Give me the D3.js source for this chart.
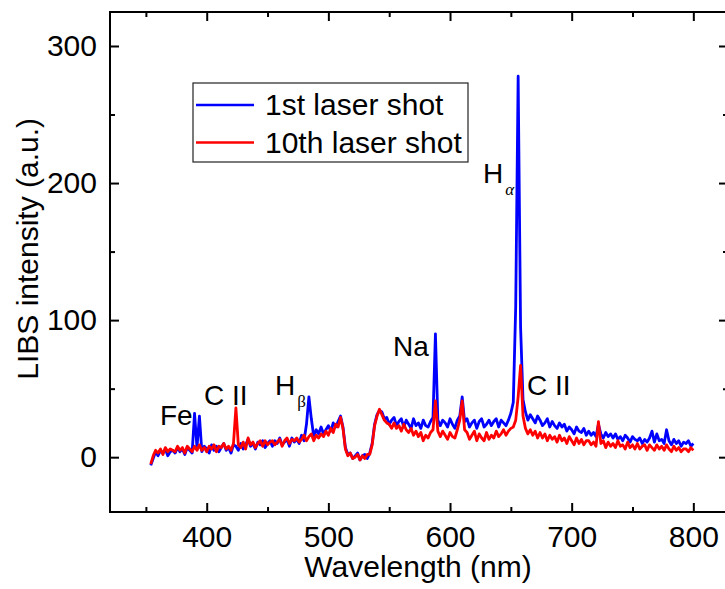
<!DOCTYPE html>
<html>
<head>
<meta charset="utf-8">
<script src="https://cdn.jsdelivr.net/npm/d3@7"></script>
<style>
  body { margin: 0; background: #fff; }
  svg { display: block; font-family: "Liberation Sans", Arial, sans-serif; }
</style>
</head>
<body>
<div id="chart"></div>
<script>
// wavelength grid (nm), one sample every 2 nm
var wavelength = [
  354,356,358,360,362,364,366,368,370,372,
  374,376,378,380,382,384,386,388,390,392,
  394,396,398,400,402,404,406,408,410,412,
  414,416,418,420,422,424,426,428,430,432,
  434,436,438,440,442,444,446,448,450,452,
  454,456,458,460,462,464,466,468,470,472,
  474,476,478,480,482,484,486,488,490,492,
  494,496,498,500,502,504,506,508,510,512,
  514,516,518,520,522,524,526,528,530,532,
  534,536,538,540,542,544,546,548,550,552,
  554,556,558,560,562,564,566,568,570,572,
  574,576,578,580,582,584,586,588,590,592,
  594,596,598,600,602,604,606,608,610,612,
  614,616,618,620,622,624,626,628,630,632,
  634,636,638,640,642,644,646,648,650,652,
  654,656,658,660,662,664,666,668,670,672,
  674,676,678,680,682,684,686,688,690,692,
  694,696,698,700,702,704,706,708,710,712,
  714,716,718,720,722,724,726,728,730,732,
  734,736,738,740,742,744,746,748,750,752,
  754,756,758,760,762,764,766,768,770,772,
  774,776,778,780,782,784,786,788,790,792,
  794,796,798,800
];

// 1st laser shot
var shot1 = [
  -6,-1,4,1,5,3,6,1,4,5,
  3,7,4,6,2,7,5,3,32,7,
  30,4,8,6,3,9,5,8,4,7,
  10,5,7,3,9,8,5,10,6,9,
  13,8,10,6,11,9,12,7,10,12,
  8,12,10,14,9,11,13,8,14,11,
  13,10,16,12,24,44,28,15,20,17,
  22,17,20,23,19,25,22,26,30,22,
  7,2,3,-1,1,3,-2,1,2,-1,
  3,10,24,31,34,33,28,29,24,27,
  29,23,26,28,22,27,24,21,28,23,
  25,21,27,23,22,26,29,90,27,23,
  27,25,22,28,24,21,27,30,44,26,
  28,22,25,27,21,26,28,22,24,27,
  23,26,28,22,27,25,23,27,32,40,
  110,278,95,42,33,27,31,28,25,30,
  27,23,25,28,22,26,23,21,25,22,
  24,19,22,20,17,22,19,18,21,16,
  19,16,18,15,24,17,14,18,15,17,
  14,17,13,15,12,16,14,11,15,13,
  12,14,10,13,11,14,19,11,17,12,
  13,10,20,12,9,13,10,12,8,11,
  10,12,8,10
];

// 10th laser shot
var shot10 = [
  -5,1,5,3,6,2,7,4,6,5,
  4,8,5,7,3,8,6,4,8,5,
  9,5,7,4,8,6,9,4,8,7,
  10,6,8,5,10,36,9,7,11,6,
  14,9,11,7,10,12,8,12,9,11,
  12,9,11,13,8,12,14,10,13,12,
  14,11,13,16,12,15,17,12,16,14,
  17,15,19,16,21,18,24,22,29,21,
  6,1,3,-1,0,2,-2,1,-1,2,
  2,9,23,30,35,31,27,25,24,21,
  25,21,23,19,24,20,18,21,16,19,
  15,18,12,16,14,18,20,41,19,15,
  19,16,13,18,15,14,20,27,41,20,
  18,13,16,19,12,17,14,12,18,13,
  16,14,19,15,17,20,16,19,21,22,
  27,44,67,30,21,17,20,16,19,14,
  18,14,17,12,16,13,15,11,16,12,
  14,10,15,12,9,14,10,13,9,12,
  12,9,11,8,26,10,12,7,11,8,
  10,7,12,8,9,6,11,7,9,6,
  10,6,8,9,5,9,7,5,9,6,
  8,5,9,6,4,8,5,7,4,6,
  6,4,7,5
];

var seriesNames = ["1st laser shot", "10th laser shot"];
var seriesColors = ["#0000ff", "#ff0000"];

var xMajorTicks = [400, 500, 600, 700, 800];
var xMinorTicks = [350, 450, 550, 650, 750];
var yMajorTicks = [0, 100, 200, 300];
var yMinorTicks = [50, 150, 250];

// peak labels: text, subscript, wavelength and intensity of the text baseline
var peakLabels = ["Fe", "C II", "H", "Na", "H", "C II"];
var peakSubs = ["", "", "\u03b2", "", "\u03b1", ""];
var peakWl = [361.6, 397.8, 456.1, 553.1, 627.1, 663.3];
var peakVal = [23.4, 38, 45.3, 73.7, 200, 45.3];

var svgWidth = 725, svgHeight = 589;
var margin = { top: 12, right: -3, bottom: 77, left: 110 };
var width = svgWidth - margin.left - margin.right;
var height = svgHeight - margin.top - margin.bottom;

var svg = d3.select("#chart")
  .append("svg")
  .attr("width", svgWidth)
  .attr("height", svgHeight);

var g = svg.append("g")
  .attr("transform", "translate(" + margin.left + "," + margin.top + ")");

var x = d3.scaleLinear()
  .domain([320.5, 828.5])
  .range([0, width]);

var y = d3.scaleLinear()
  .domain([-40, 324.8])
  .range([height, 0]);

var line = d3.line()
  .x(function(d, i) { return x(wavelength[i]); })
  .y(function(d) { return y(d); });

// spectra, blue first so red sits on top
[shot1, shot10].forEach(function(s, k) {
  g.append("path")
    .datum(s)
    .attr("fill", "none")
    .attr("stroke", seriesColors[k])
    .attr("stroke-width", 2.8)
    .attr("stroke-linejoin", "round")
    .attr("d", line);
});

// axes: ticks pointing inwards, on all four sides
function styleAxis(sel) {
  sel.selectAll(".domain").remove();
  sel.selectAll(".tick line").attr("stroke", "#000").attr("stroke-width", 2);
  sel.selectAll(".tick text")
    .attr("fill", "#000")
    .style("font-size", "30px")
    .style("font-family", "Liberation Sans, Arial, sans-serif");
}

g.append("g")
  .attr("transform", "translate(0," + height + ")")
  .call(d3.axisBottom(x).tickValues(xMajorTicks).tickSize(-9).tickPadding(14).tickFormat(d3.format("d")))
  .call(styleAxis);
g.append("g")
  .attr("transform", "translate(0," + height + ")")
  .call(d3.axisBottom(x).tickValues(xMinorTicks).tickSize(-5).tickFormat(""))
  .call(styleAxis);
g.append("g")
  .call(d3.axisTop(x).tickValues(xMajorTicks).tickSize(-9).tickFormat(""))
  .call(styleAxis);
g.append("g")
  .call(d3.axisTop(x).tickValues(xMinorTicks).tickSize(-5).tickFormat(""))
  .call(styleAxis);

g.append("g")
  .call(d3.axisLeft(y).tickValues(yMajorTicks).tickSize(-9).tickPadding(13).tickFormat(d3.format("d")))
  .call(styleAxis);
g.append("g")
  .call(d3.axisLeft(y).tickValues(yMinorTicks).tickSize(-5).tickFormat(""))
  .call(styleAxis);
g.append("g")
  .attr("transform", "translate(" + width + ",0)")
  .call(d3.axisRight(y).tickValues(yMajorTicks).tickSize(-9).tickFormat(""))
  .call(styleAxis);
g.append("g")
  .attr("transform", "translate(" + width + ",0)")
  .call(d3.axisRight(y).tickValues(yMinorTicks).tickSize(-5).tickFormat(""))
  .call(styleAxis);

// frame
g.append("rect")
  .attr("width", width)
  .attr("height", height)
  .attr("fill", "none")
  .attr("stroke", "#000")
  .attr("stroke-width", 2);

// axis titles
g.append("text")
  .attr("x", x(573.7))
  .attr("y", height + 65)
  .attr("text-anchor", "middle")
  .style("font-size", "30px")
  .text("Wavelength (nm)");

g.append("text")
  .attr("transform", "translate(" + (38 - margin.left) + "," + y(152) + ") rotate(-90)")
  .attr("text-anchor", "middle")
  .style("font-size", "30px")
  .text("LIBS intensity (a.u.)");

// peak labels
peakLabels.forEach(function(t, i) {
  var txt = g.append("text")
    .attr("x", x(peakWl[i]))
    .attr("y", y(peakVal[i]))
    .style("font-size", "28px")
    .text(t);
  if (peakSubs[i]) {
    txt.append("tspan")
      .attr("dy", 12)
      .attr("dx", 2)
      .style("font-size", "17px")
      .style("font-family", "Liberation Serif, serif")
      .style("font-style", peakSubs[i] === "\u03b1" ? "italic" : "normal")
      .text(peakSubs[i]);
  }
});

// legend
var legend = g.append("g").attr("transform", "translate(83,71)");
legend.append("rect")
  .attr("width", 275)
  .attr("height", 79)
  .attr("fill", "#fff")
  .attr("stroke", "#222")
  .attr("stroke-width", 1.2);
seriesNames.forEach(function(name, k) {
  legend.append("line")
    .attr("x1", 3).attr("x2", 61)
    .attr("y1", 22 + k * 37.5).attr("y2", 22 + k * 37.5)
    .attr("stroke", seriesColors[k])
    .attr("stroke-width", 2.5);
  legend.append("text")
    .attr("x", 72)
    .attr("y", 32 + k * 37.5)
    .style("font-size", "30px")
    .text(name);
});
</script>
</body>
</html>
